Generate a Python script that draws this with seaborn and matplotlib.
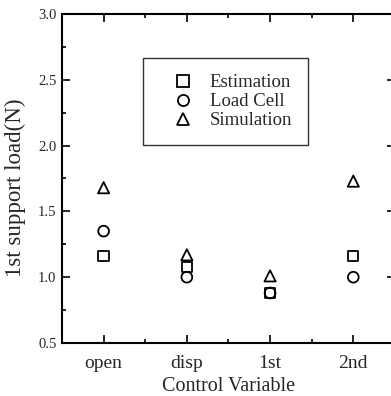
import matplotlib
matplotlib.use("Agg")
import matplotlib.pyplot as plt
import seaborn as sns
import pandas as pd
from matplotlib.ticker import MultipleLocator, FixedLocator
from matplotlib.lines import Line2D

categories = ["open", "disp", "1st", "2nd"]
estimation = [1.16, 1.08, 0.88, 1.16]
load_cell = [1.35, 1.00, 0.88, 1.00]
simulation = [1.68, 1.17, 1.01, 1.73]
series_names = ["Estimation", "Load Cell", "Simulation"]
y_ticks = [0.5, 1.0, 1.5, 2.0, 2.5, 3.0]

sns.set_theme(style="ticks")
plt.rcParams["font.family"] = ["Liberation Serif", "DejaVu Serif"]

df = pd.DataFrame({
    "Control Variable": categories * 3,
    "value": estimation + load_cell + simulation,
    "series": [s for s in series_names for _ in categories],
})

fig = plt.figure(figsize=(3.91, 3.96), dpi=100)
ax = fig.add_axes([62/391, 1-343/396, 329/391 + 0.01, (343-14)/396])

markers = {"Estimation": "s", "Load Cell": "o", "Simulation": "^"}
sizes = {"Estimation": 55, "Load Cell": 60, "Simulation": 65}
for name in series_names:
    sub = df[df["series"] == name]
    sns.scatterplot(data=sub, x="Control Variable", y="value", marker=markers[name],
                    s=sizes[name], facecolors="none", edgecolor="black",
                    linewidth=1.3, ax=ax, legend=False, zorder=3)

ax.set_xlim(-0.5, 3.5)
ax.set_ylim(0.5, 3.0)
ax.set_xticks(range(len(categories)))
ax.set_xticklabels(categories, fontsize=14)
ax.set_yticks(y_ticks)
ax.set_yticklabels([f"{t:.1f}" for t in y_ticks], fontsize=10.5)
ax.yaxis.set_minor_locator(MultipleLocator(0.25))
ax.xaxis.set_minor_locator(FixedLocator([0.5, 1.5, 2.5]))
ax.tick_params(which="both", direction="in", top=True, right=True, color="black", width=1.2)
ax.tick_params(which="major", length=6)
ax.tick_params(axis="x", which="major", pad=8.5)
ax.tick_params(axis="y", which="major", pad=4)
ax.tick_params(which="minor", length=3)
for sp in ax.spines.values():
    sp.set_visible(True)
    sp.set_color("black")
    sp.set_linewidth(1.5)

ax.set_xlabel("Control Variable", fontsize=14.5)
ax.xaxis.set_label_coords(0.5, -(377 - 343) / 329)
ax.xaxis.label.set_verticalalignment("top")
ax.set_ylabel("1st support load(N)", fontsize=16.5)
ax.yaxis.set_label_coords((16 - 62) / 329, (343 - 188) / 329)
ax.yaxis.label.set_verticalalignment("center")

handles = [Line2D([], [], linestyle="none", marker=markers[n], markersize=8,
                  markerfacecolor="none", markeredgecolor="black", markeredgewidth=1.3)
           for n in series_names]
leg = ax.legend(handles, series_names, loc="upper left", bbox_to_anchor=(0.243, 0.866),
                borderaxespad=0, frameon=True, fancybox=False, shadow=False,
                fontsize=13.5, borderpad=0.85, handletextpad=0.15, labelspacing=0.1,
                handlelength=2.56)
leg.get_frame().set_edgecolor("black")
leg.get_frame().set_linewidth(1.0)

fig.savefig("out.png", dpi=100)
